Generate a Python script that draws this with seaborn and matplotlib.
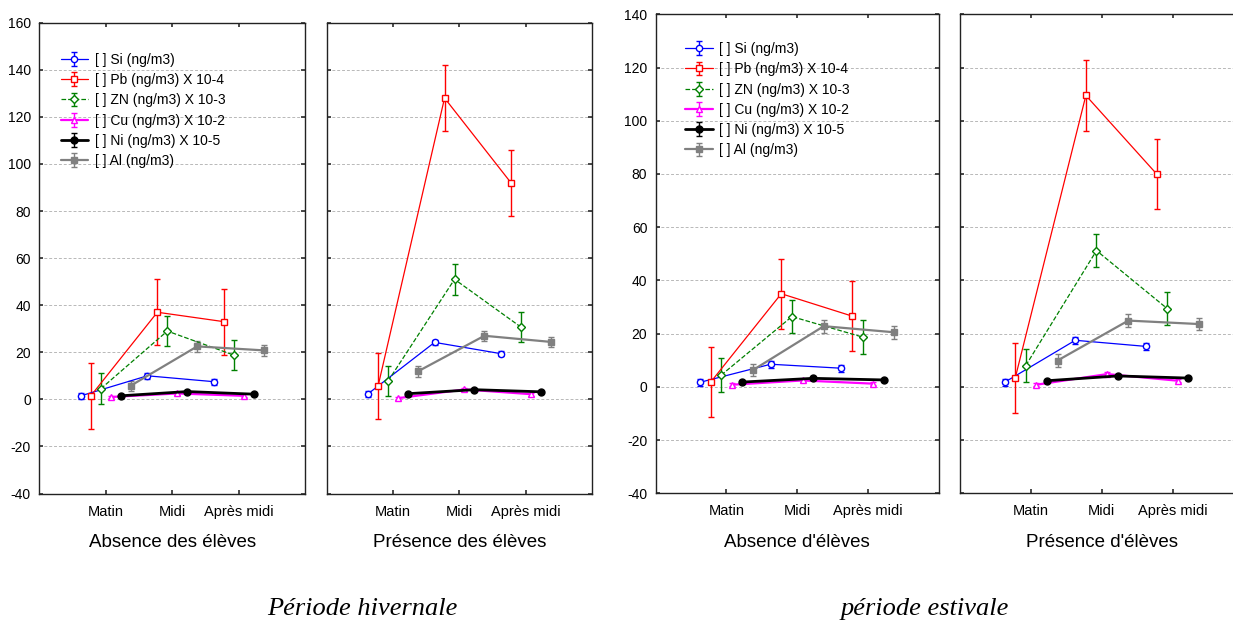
import matplotlib.pyplot as plt
import seaborn as sns
import numpy as np

# Catégories et séries
moments = ["Matin", "Midi", "Après midi"]
etiquettes = ["[ ] Si (ng/m3)", "[ ] Pb (ng/m3) X 10-4", "[ ] ZN (ng/m3) X 10-3",
              "[ ] Cu (ng/m3) X 10-2", "[ ] Ni (ng/m3) X 10-5", "[ ] Al (ng/m3)"]

# Période hivernale - absence des élèves
hiv_abs_si = [1.5, 10.0, 7.5]
hiv_abs_pb = [1.5, 37.0, 33.0]
hiv_abs_zn = [4.5, 29.0, 18.8]
hiv_abs_cu = [1.0, 2.5, 1.5]
hiv_abs_ni = [1.5, 3.3, 2.2]
hiv_abs_al = [5.8, 22.5, 20.8]

# Période hivernale - présence des élèves
hiv_pre_si = [2.4, 24.2, 19.4]
hiv_pre_pb = [5.8, 128.0, 92.0]
hiv_pre_zn = [7.8, 51.0, 30.7]
hiv_pre_cu = [0.5, 4.2, 2.2]
hiv_pre_ni = [2.4, 4.1, 3.2]
hiv_pre_al = [11.9, 27.0, 24.4]

# Période estivale - absence des élèves
est_abs_si = [1.7, 8.5, 7.0]
est_abs_pb = [1.7, 35.0, 26.6]
est_abs_zn = [4.4, 26.4, 18.7]
est_abs_cu = [0.8, 2.4, 1.2]
est_abs_ni = [1.8, 3.2, 2.6]
est_abs_al = [6.3, 22.8, 20.5]

# Période estivale - présence des élèves
est_pre_si = [1.7, 17.5, 15.2]
est_pre_pb = [3.2, 109.5, 80.0]
est_pre_zn = [8.0, 51.2, 29.4]
est_pre_cu = [0.8, 4.8, 2.3]
est_pre_ni = [2.3, 4.1, 3.3]
est_pre_al = [9.9, 24.9, 23.6]

# Demi-largeur des barres d'erreur (Si, Pb, ZN, Cu, Ni, Al)
hiv_erreurs = [1.2, 14.0, 6.5, 0.6, 0.4, 2.2]
est_erreurs = [1.3, 13.2, 6.3, 0.6, 0.4, 2.4]

# Styles des séries
couleurs = ["#0000FF", "#FF0000", "#008000", "#FF00FF", "#000000", "#808080"]
marqueurs = ["o", "s", "D", "^", "o", "s"]
remplis = [False, False, False, False, True, True]
tailles = [4.5, 5, 4.5, 4.5, 5, 5]
epaisseurs = [0.9, 0.9, 0.9, 1.6, 2.0, 1.6]
styles = ["-", "-", "--", "-", "-", "-"]

sns.set_theme(style="white")
plt.rcParams["font.family"] = ["Liberation Sans", "DejaVu Sans"]
plt.rcParams["axes.unicode_minus"] = False
plt.rcParams["text.color"] = "black"
plt.rcParams["axes.labelcolor"] = "black"
plt.rcParams["xtick.color"] = "black"
plt.rcParams["ytick.color"] = "black"

W, H = 1233, 622
fig = plt.figure(figsize=(W / 100, H / 100), dpi=100)


def creer_axe(gauche, haut, droite, bas):
    return fig.add_axes([gauche / W, (H - bas) / H, (droite - gauche) / W, (bas - haut) / H])


def dessiner_panneau(ax, series, erreurs, ymin, ymax, titre, avec_labels):
    decalages = np.linspace(-0.375, 0.375, 6)
    x_base = np.arange(len(moments))
    for i, valeurs in enumerate(series):
        face = couleurs[i] if remplis[i] else "white"
        ax.errorbar(x_base + decalages[i], valeurs, yerr=erreurs[i],
                    color=couleurs[i], ecolor=couleurs[i], linestyle=styles[i],
                    linewidth=epaisseurs[i], marker=marqueurs[i], markersize=tailles[i],
                    markerfacecolor=face, markeredgecolor=couleurs[i], markeredgewidth=1,
                    elinewidth=1, capsize=2.5, capthick=1, label=etiquettes[i])
    ax.set_xlim(-1, 3)
    ax.set_ylim(ymin, ymax)
    ax.set_xticks(x_base)
    ax.set_xticklabels(moments, fontsize=10.5)
    ax.set_yticks(np.arange(ymin, ymax + 1, 20))
    ax.grid(axis="y", color="#b8b8b8", linestyle=(0, (3, 2)), linewidth=0.7)
    ax.grid(axis="x", visible=False)
    ax.set_axisbelow(True)
    ax.tick_params(axis="y", direction="in", left=True, right=True, length=3,
                   labelsize=10, pad=6, labelleft=avec_labels, color="#333333")
    ax.tick_params(axis="x", direction="in", bottom=True, top=True, length=3,
                   pad=8, color="#333333")
    for spine in ax.spines.values():
        spine.set_color("#222222")
        spine.set_linewidth(1)
    ax.set_xlabel(titre, fontsize=13.5, labelpad=11)


ax1 = creer_axe(39.3, 22.7, 305.3, 493.5)
ax2 = creer_axe(326.7, 22.7, 592.3, 493.5)
ax3 = creer_axe(655.7, 14.3, 938.7, 493.3)
ax4 = creer_axe(960.3, 14.3, 1243.3, 493.3)

dessiner_panneau(ax1, [hiv_abs_si, hiv_abs_pb, hiv_abs_zn, hiv_abs_cu, hiv_abs_ni, hiv_abs_al],
                 hiv_erreurs, -40, 160, "Absence des élèves", True)
dessiner_panneau(ax2, [hiv_pre_si, hiv_pre_pb, hiv_pre_zn, hiv_pre_cu, hiv_pre_ni, hiv_pre_al],
                 hiv_erreurs, -40, 160, "Présence des élèves", False)
dessiner_panneau(ax3, [est_abs_si, est_abs_pb, est_abs_zn, est_abs_cu, est_abs_ni, est_abs_al],
                 est_erreurs, -40, 140, "Absence d'élèves", True)
dessiner_panneau(ax4, [est_pre_si, est_pre_pb, est_pre_zn, est_pre_cu, est_pre_ni, est_pre_al],
                 est_erreurs, -40, 140, "Présence d'élèves", False)

for ax, pos in [(ax1, (0.08, 0.936)), (ax3, (0.104, 0.942))]:
    ax.legend(loc="upper left", bbox_to_anchor=pos, frameon=False, fontsize=10,
              handlelength=2.0, handletextpad=0.45, labelspacing=0.45,
              borderpad=0, borderaxespad=0)

fig.text(362 / W, 1 - 609 / H, "Période hivernale", ha="center", va="center",
         fontsize=19, style="italic", family=["Liberation Serif", "DejaVu Serif"])
fig.text(925 / W, 1 - 609 / H, "période estivale", ha="center", va="center",
         fontsize=19, style="italic", family=["Liberation Serif", "DejaVu Serif"])

fig.savefig("out.png", dpi=100)
plt.close(fig)
